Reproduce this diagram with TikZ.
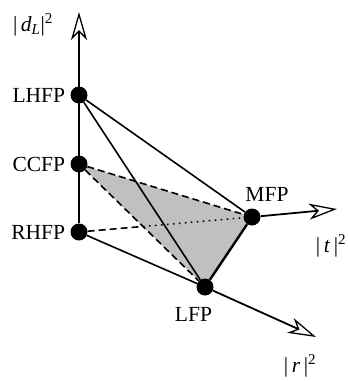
\documentclass[tikz,border=0pt]{standalone}
\usepackage{fontspec}
\setmainfont{Liberation Serif}
\definecolor{facegray}{HTML}{C0C0C0}
\usetikzlibrary{arrows.meta,positioning,backgrounds}

\begin{document}
\begin{tikzpicture}[x=1pt, y=-1pt,
  fp/.style={circle, fill=black, inner sep=0pt, minimum size=17pt},
  lbl/.style={font=\fontsize{21.5}{26}\selectfont, inner sep=0pt},
  axis/.style={line width=1.8pt, -{Stealth[length=28pt, width=16pt, inset=8pt, fill=white, line width=1.3pt]}},
  edge/.style={line width=1.6pt},
  hidden/.style={line width=1.6pt, dash pattern=on 7pt off 4pt},
  behind/.style={line width=1.6pt, dash pattern=on 1.6pt off 4.4pt}]
\useasboundingbox (0,0) rectangle (348,381);

% fixed points
\node[fp] (lhfp) at (79,95) {};
\node[fp] (ccfp) at (79,164) {};
\node[fp] (rhfp) at (79,232) {};
\node[fp] (mfp) at (252,217) {};
\node[fp] (lfp) at (205,287) {};

\node[lbl, left=5pt of lhfp] (lhfp-l) {LHFP};
\node[lbl, left=5pt of ccfp] (ccfp-l) {CCFP};
\node[lbl, left=5pt of rhfp] (rhfp-l) {RHFP};
\node[lbl] (mfp-l) at (267,194.5) {MFP};
\node[lbl] (lfp-l) at (193.5,314.5) {LFP};

% axis tips
\coordinate (dtip) at (79,12);
\coordinate (ttip) at (337,209);
\coordinate (rtip) at (316,337);
\coordinate (hid) at (intersection of rhfp.center--mfp.center and ccfp.center--lfp.center);

\node[lbl] (d-l) at (33,25) {|\,\textit{d}\textsubscript{\textit{L}}|\textsuperscript{2}};
\node[lbl] (t-l) at (331,246) {|\,\textit{t}\,|\textsuperscript{2}};
\node[lbl] (r-l) at (300,366) {|\,\textit{r}\,|\textsuperscript{2}};

% shaded face
\begin{scope}[on background layer]
\fill[facegray] (ccfp.center) -- (mfp.center) -- (lfp.center) -- cycle;
\end{scope}

% axes
\draw[axis] (rhfp) -- (dtip);
\draw[hidden] (rhfp) -- (hid);
\draw[behind] (hid) -- (mfp);
\draw[axis] (mfp) -- (ttip);
\draw[edge] (rhfp) -- (lfp);
\draw[axis] (lfp) -- (rtip);

% edges
\draw[edge] (lhfp) -- (mfp);
\draw[edge] (lhfp) -- (lfp);
\draw[hidden] (ccfp) -- (mfp);
\draw[hidden] (ccfp) -- (lfp);
\draw[edge, line width=2.4pt] (lfp) -- (mfp);
\end{tikzpicture}
\end{document}
